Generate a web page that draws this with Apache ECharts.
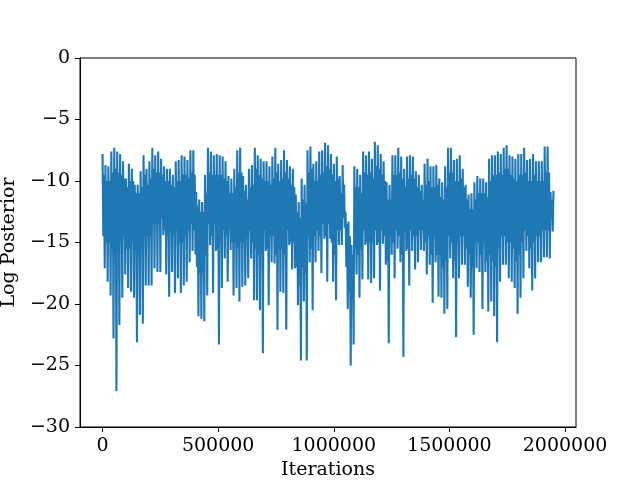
<!DOCTYPE html>
<html>
<head>
<meta charset="utf-8">
<script src="https://cdn.jsdelivr.net/npm/echarts@6/dist/echarts.min.js"></script>
<style>html,body{margin:0;padding:0;background:#fff}#c{width:640px;height:480px}</style>
</head>
<body>
<div id="c"></div>
<script>
// Trace, per short block of iterations:
// highest value, lowest value, and the top / bottom of the dense core the trace keeps crossing
const blockHigh = [
  -7.8,-8.7,-8.8,-7.6,-7.3,-7.6,-7.8,-8.4,-9.8,-8.6,-9.0,-10.3,-10.3,-9.2,-7.9,-9.0,-8.4,-7.3,-7.9,-7.6,-8.2,-8.8,-9.0,-9.0,-9.5,-8.4,
  -8.3,-7.9,-8.0,-8.3,-7.5,-7.5,-10.9,-11.5,-11.7,-9.5,-7.3,-7.6,-7.9,-7.8,-7.9,-8.0,-8.4,-9.6,-9.8,-9.0,-7.5,-7.3,-9.6,-10.3,-9.0,-8.7,
  -7.3,-7.9,-8.2,-8.4,-8.4,-8.8,-8.0,-7.3,-8.6,-8.3,-7.5,-8.3,-8.8,-9.0,-11.1,-11.7,-9.8,-10.3,-7.5,-7.2,-8.6,-8.4,-7.6,-7.5,-6.9,-7.1,
  -7.8,-8.6,-8.0,-9.6,-8.7,-12.5,-13.3,-15.2,-8.8,-9.0,-9.5,-7.6,-7.9,-7.6,-8.2,-6.8,-7.1,-7.8,-8.4,-10.1,-10.3,-7.9,-7.9,-7.3,-8.0,-9.0,
  -8.0,-7.9,-8.0,-9.2,-9.5,-10.3,-8.6,-8.2,-8.8,-8.8,-8.7,-9.8,-10.1,-8.8,-7.3,-7.3,-8.3,-8.2,-7.9,-9.0,-10.3,-11.1,-11.0,-10.1,-9.6,-9.8,
  -9.8,-10.1,-8.2,-7.9,-7.9,-7.6,-7.8,-7.3,-7.1,-7.9,-8.0,-8.2,-7.8,-7.8,-7.3,-8.3,-8.2,-7.8,-8.4,-8.4,-8.4,-7.2,-7.2,-10.9
];
const blockLow = [
  -17.1,-18.2,-19.3,-22.8,-27.1,-21.7,-19.5,-17.6,-18.7,-19.0,-19.5,-23.1,-20.9,-21.6,-18.5,-18.5,-18.5,-17.1,-17.4,-17.4,-14.4,-17.6,-19.4,-17.4,-19.1,-17.9,
  -19.1,-18.5,-18.2,-16.6,-15.7,-16.0,-21.0,-21.2,-21.4,-19.3,-15.2,-19.1,-15.7,-23.3,-18.7,-16.3,-18.2,-15.6,-19.3,-18.7,-19.8,-18.6,-18.5,-17.9,-16.3,-19.7,
  -19.7,-20.5,-24.0,-15.7,-20.1,-16.6,-16.7,-22.1,-19.0,-19.1,-22.1,-15.2,-17.2,-17.1,-20.1,-24.6,-19.8,-24.6,-16.6,-20.5,-16.6,-15.7,-17.5,-14.7,-18.2,-14.7,
  -18.2,-19.7,-15.2,-15.2,-13.8,-20.4,-25.0,-23.3,-17.6,-19.5,-18.0,-15.2,-18.0,-18.3,-17.9,-15.2,-18.9,-15.1,-16.8,-23.2,-16.0,-17.9,-15.5,-16.6,-24.3,-15.7,
  -18.5,-15.7,-17.2,-16.6,-15.6,-15.7,-17.6,-16.8,-19.9,-16.6,-19.4,-19.5,-20.8,-20.4,-16.3,-17.9,-22.7,-17.9,-16.8,-16.8,-18.6,-19.5,-22.5,-17.1,-17.4,-20.4,
  -17.4,-20.6,-19.8,-21.0,-23.1,-18.2,-16.8,-16.8,-17.9,-18.2,-18.7,-20.8,-19.5,-17.9,-15.7,-17.1,-18.9,-17.9,-16.6,-16.6,-16.2,-16.2,-16.3,-14.1
];
const coreHigh = [
  -9.5,-10.0,-10.0,-9.3,-9.0,-9.3,-9.5,-9.8,-10.5,-10.0,-10.0,-11.0,-11.0,-10.5,-9.5,-10.3,-9.8,-9.0,-9.3,-9.3,-9.5,-10.0,-10.0,-10.3,-10.5,-10.0,
  -10.0,-9.5,-9.5,-9.8,-9.3,-9.5,-12.0,-12.5,-12.5,-11.0,-9.3,-9.5,-9.5,-9.5,-9.5,-9.8,-10.0,-11.0,-11.0,-10.5,-9.3,-9.3,-10.8,-11.5,-10.5,-10.3,
  -9.0,-9.5,-9.8,-10.0,-10.0,-10.3,-9.8,-9.3,-10.0,-9.8,-9.3,-9.8,-10.3,-10.5,-12.5,-13.0,-11.5,-11.8,-9.3,-9.0,-10.0,-10.0,-9.5,-9.3,-8.8,-9.0,
  -9.5,-10.0,-9.8,-11.0,-10.3,-13.5,-14.5,-16.0,-10.5,-10.5,-11.0,-9.3,-9.5,-9.3,-9.8,-8.8,-9.0,-9.5,-10.0,-11.5,-11.5,-9.5,-9.5,-9.3,-9.8,-10.5,
  -9.8,-9.5,-9.8,-10.5,-10.8,-11.5,-10.3,-10.0,-10.5,-10.5,-10.3,-11.3,-11.5,-10.5,-9.3,-9.3,-10.0,-10.0,-9.8,-10.5,-11.5,-12.3,-12.3,-11.5,-11.0,-11.0,
  -11.0,-11.3,-10.0,-9.5,-9.5,-9.3,-9.5,-9.0,-9.0,-9.5,-9.8,-10.0,-9.5,-9.5,-9.3,-10.0,-10.0,-9.5,-10.0,-10.0,-10.0,-9.3,-9.3,-11.5
];
const coreLow = [
  -14.5,-15.0,-15.0,-15.5,-16.0,-15.5,-15.0,-14.5,-15.5,-15.5,-15.0,-15.5,-15.5,-15.5,-14.5,-14.5,-14.5,-13.5,-13.5,-13.5,-13.0,-14.0,-14.5,-14.0,-14.5,-14.0,
  -15.0,-15.0,-14.5,-14.0,-13.5,-14.0,-17.0,-17.5,-17.5,-16.0,-13.5,-14.5,-13.5,-15.5,-15.0,-14.0,-14.5,-14.0,-15.0,-15.0,-15.5,-15.0,-15.0,-14.5,-14.0,-15.0,
  -15.5,-16.0,-16.0,-14.0,-15.5,-14.5,-14.5,-16.0,-15.5,-15.5,-16.0,-14.0,-15.0,-15.0,-17.0,-18.5,-17.0,-17.5,-14.5,-15.5,-14.5,-14.0,-14.5,-13.5,-14.5,-13.5,
  -15.0,-16.0,-14.0,-14.0,-13.0,-17.0,-19.0,-19.5,-15.5,-16.0,-15.5,-14.0,-15.0,-15.0,-15.0,-14.0,-15.0,-14.0,-14.5,-16.5,-14.5,-15.0,-14.0,-14.5,-16.0,-14.0,
  -15.5,-14.0,-14.5,-14.5,-14.0,-14.0,-15.0,-14.5,-16.0,-14.5,-16.0,-16.0,-17.0,-16.5,-14.5,-15.0,-16.5,-15.0,-14.5,-14.5,-15.5,-16.0,-17.0,-15.0,-15.0,-16.0,
  -15.0,-16.5,-16.0,-16.5,-17.0,-15.5,-14.5,-14.5,-15.0,-15.0,-15.5,-16.5,-16.0,-15.0,-14.0,-14.5,-15.5,-15.0,-14.5,-14.5,-14.0,-14.0,-14.0,-13.0
];
const lastValue = -10.8;
const totalIterations = 1950000;
const xTicks = [0, 500000, 1000000, 1500000, 2000000];

const n = blockHigh.length;
const step = totalIterations / n;
const trace = [];
for (let i = 0; i < n; i++) {
  trace.push([i * step, blockHigh[i]]);
  trace.push([i * step + step * 0.25, coreLow[i]]);
  trace.push([i * step + step * 0.5, coreHigh[i]]);
  trace.push([i * step + step * 0.75, blockLow[i]]);
}
trace.push([totalIterations, lastValue]);

const font = 'DejaVu Serif';
const chart = echarts.init(document.getElementById('c'), null, {renderer: 'canvas'});
chart.setOption({
  animation: false,
  backgroundColor: '#fff',
  grid: {left: 80, right: 64, top: 58, bottom: 53, show: true, borderColor: '#000', borderWidth: 1,
         backgroundColor: 'transparent', containLabel: false, outerBoundsMode: 'none'},
  xAxis: {
    type: 'value', min: -97500, max: 2047500,
    name: 'Iterations', nameLocation: 'middle', nameGap: 30,
    nameTextStyle: {fontFamily: font, fontSize: 19, color: '#000'},
    axisLine: {show: true, onZero: false, lineStyle: {color: '#000', width: 1}},
    axisTick: {show: true, inside: false, length: 5, lineStyle: {color: '#000'}, customValues: xTicks},
    axisLabel: {fontFamily: font, fontSize: 19, color: '#000', margin: 10, customValues: xTicks, formatter: v => String(v)},
    splitLine: {show: false}
  },
  yAxis: {
    type: 'value', min: -30, max: 0, interval: 5,
    name: 'Log Posterior', nameLocation: 'middle', nameGap: 53, nameRotate: 90,
    nameTextStyle: {fontFamily: font, fontSize: 19, color: '#000'},
    axisLine: {show: true, onZero: false, lineStyle: {color: '#000', width: 1}},
    axisTick: {show: true, inside: false, length: 5, lineStyle: {color: '#000'}},
    axisLabel: {fontFamily: font, fontSize: 19, color: '#000', margin: 10, formatter: v => (v < 0 ? '\u2212' + Math.abs(v) : String(v))},
    splitLine: {show: false}
  },
  series: [{
    type: 'line', data: trace, showSymbol: false, symbol: 'none', sampling: null,
    lineStyle: {color: '#1f77b4', width: 2.1}, clip: true
  }]
});
</script>
</body>
</html>
